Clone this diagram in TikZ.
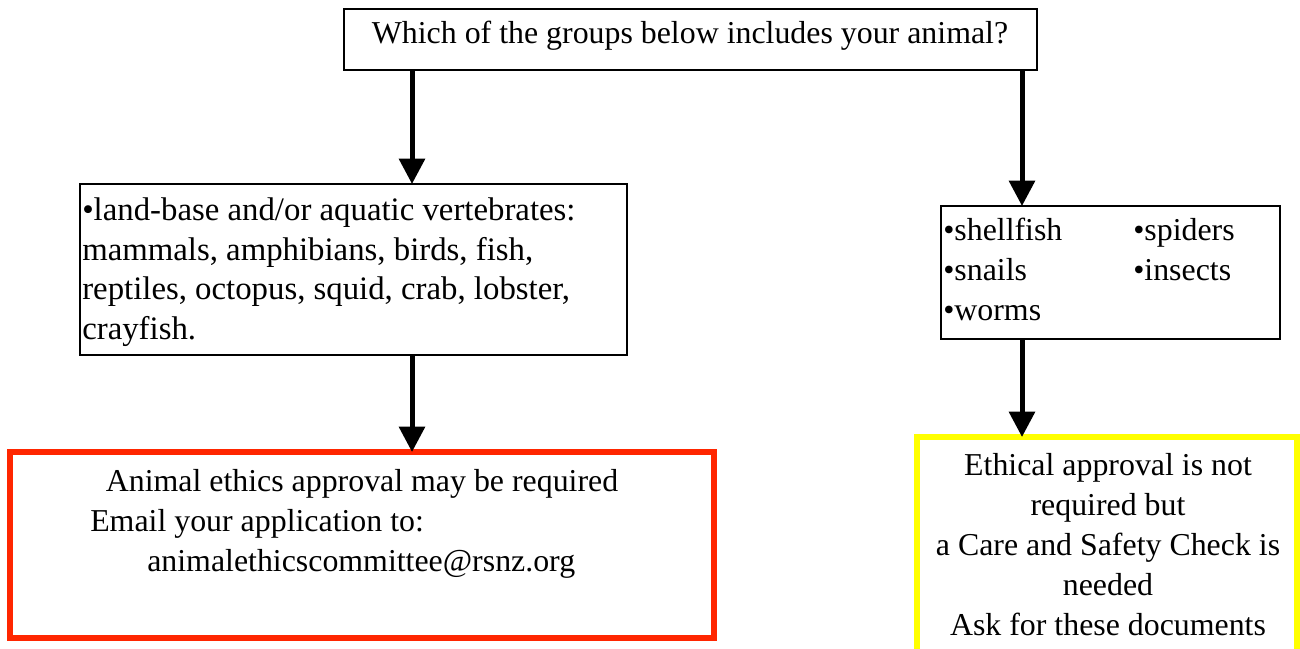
\documentclass[tikz,border=0pt]{standalone}
\usepackage{fontspec}
\setmainfont{Liberation Serif}
\usetikzlibrary{arrows.meta}
\definecolor{boxred}{RGB}{255,38,0}
\definecolor{boxyellow}{RGB}{255,255,0}
\begin{document}
\begin{tikzpicture}[x=0.75pt,y=-0.75pt,
  txt/.style={inner sep=0pt, font=\fontsize{23.9pt}{29.7pt}\selectfont},
  bigtxt/.style={inner sep=0pt, font=\fontsize{24.6pt}{29.7pt}\selectfont},
  plainbox/.style={draw=black, line width=1.5pt, inner sep=0pt, outer sep=0pt, anchor=north west},
  redbox/.style={draw=boxred, line width=4.5pt, inner sep=0pt, outer sep=0pt, anchor=north west},
  yellowbox/.style={draw=boxyellow, line width=4.5pt, inner sep=0pt, outer sep=0pt, anchor=north west},
  flow/.style={line width=3.75pt, -{Triangle[width=19pt,length=19pt]}}]
\useasboundingbox (0,0) rectangle (1300,649);
\clip (0,0) rectangle (1300,649);
\fill[white] (0,0) rectangle (1300,649);
% boxes
\node[plainbox, minimum width=519.75pt, minimum height=45.75pt] (top) at (344,9) {};
\node[plainbox, minimum width=410.25pt, minimum height=128.25pt] (left) at (80,184) {};
\node[plainbox, minimum width=254.25pt, minimum height=99.75pt] (right) at (941,206) {};
\node[redbox, minimum width=528pt, minimum height=139.5pt] (red) at (10,452) {};
\node[yellowbox, minimum width=285pt, minimum height=165pt] (yellow) at (917,437) {};
% texts
\node[txt, anchor=base] (t0) at (690,43.5) {Which of the groups below includes your animal?};
\node[bigtxt, anchor=base west] (l1) at (82,220.5) {•land-base and/or aquatic vertebrates:};
\node[bigtxt, anchor=base west] (l2) at (82,260.5) {mammals, amphibians, birds, fish,};
\node[bigtxt, anchor=base west] (l3) at (82,299.5) {reptiles, octopus, squid, crab, lobster,};
\node[bigtxt, anchor=base west] (l4) at (82,339.5) {crayfish.};
\node[txt, anchor=base west] (r1) at (943,240.5) {•shellfish};
\node[txt, anchor=base west] (r2) at (943,280.5) {•snails};
\node[txt, anchor=base west] (r3) at (943,320.5) {•worms};
\node[txt, anchor=base west] (r4) at (1133,240.5) {•spiders};
\node[txt, anchor=base west] (r5) at (1133,280.5) {•insects};
\node[txt, anchor=base] (a1) at (362,491) {Animal ethics approval may be required};
\node[txt, anchor=base west] (a2) at (90,531) {Email your application to:};
\node[txt, anchor=base west] (a3) at (147,571) {animalethicscommittee@rsnz.org};
\node[txt, anchor=base] (y1) at (1108,475) {Ethical approval is not};
\node[txt, anchor=base] (y2) at (1108,515) {required but};
\node[txt, anchor=base] (y3) at (1108,555) {a Care and Safety Check is};
\node[txt, anchor=base] (y4) at (1108,595) {needed};
\node[txt, anchor=base] (y5) at (1108,635) {Ask for these documents};
% connectors
\coordinate (s1) at (412,70);
\coordinate (s2) at (1022,70);
\draw[flow] (s1) -- (s1 |- left.north);
\draw[flow] (s2) -- (s2 |- right.north);
\draw[flow] (s1 |- left.south) -- (s1 |- red.north);
\draw[flow] (s2 |- right.south) -- (s2 |- yellow.north);
\end{tikzpicture}
\end{document}
